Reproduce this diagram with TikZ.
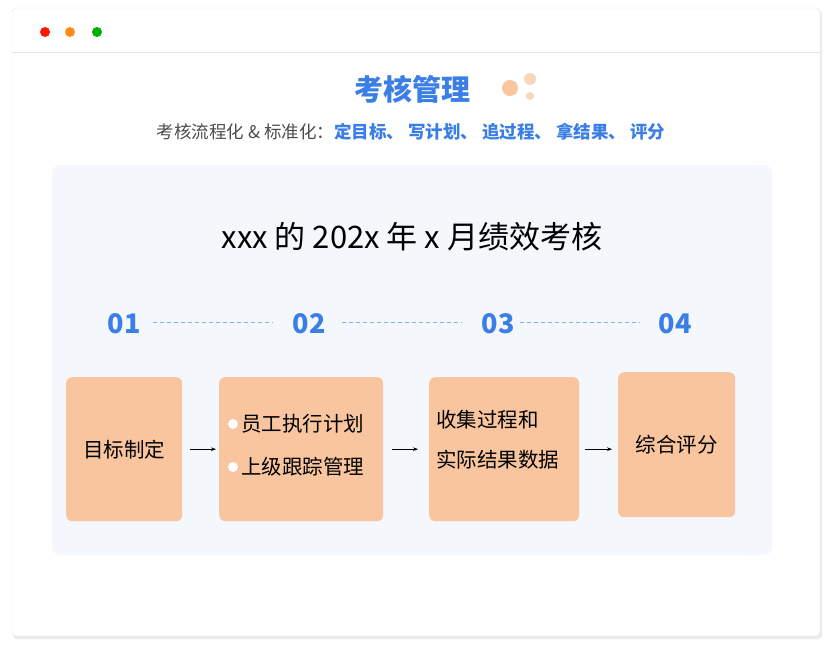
\documentclass[tikz,border=0pt]{standalone}
\usepackage{fontspec}
\setmainfont{Noto Sans CJK SC}
\usetikzlibrary{positioning,arrows.meta}
\definecolor{blueTxt}{HTML}{3B7EE6}
\definecolor{peach}{HTML}{F8C59E}
\definecolor{panelBg}{HTML}{F4F7FC}
\tikzset{
  stepbox/.style={draw=none,fill=peach,rounded corners=6pt,anchor=north west},
  num/.style={text=blueTxt,font=\fontsize{27}{30}\selectfont\bfseries},
  boxtxt/.style={font=\fontsize{20.5}{24}\selectfont,text=black},
  link/.style={dash pattern=on 4pt off 3pt,blueTxt!60,thin},
  go/.style={-{Stealth[length=5pt]},thick}
}
\begin{document}
\begin{tikzpicture}[x=1pt,y=-1pt]
\useasboundingbox (0,0) rectangle (832,648);
% window
\fill[black!8,rounded corners=4pt] (13,10) rectangle (822,639);
\draw[black!10,fill=white,rounded corners=4pt] (12,8) rectangle (820,636);
\draw[black!10] (12,52) -- (820,52);
\fill[red!80!orange] (45,32) circle (5);
\fill[orange!90] (70,32) circle (5);
\fill[green!70!black] (97,32) circle (5);
% title
\node[text=blueTxt,font=\fontsize{29}{32}\selectfont\bfseries] (title) at (412,89) {考核管理};
\fill[peach] (510,88) circle (8);
\fill[peach!70] (530,79) circle (6);
\fill[peach!70] (530,96) circle (4);
\node[font=\fontsize{17.5}{20}\selectfont] (sub) at (411,132) {\textcolor{black!70}{考核流程化 \& 标准化：}\textcolor{blueTxt}{\bfseries 定目标、\ 写计划、\ 追过程、\ 拿结果、\ 评分}};
% panel
\fill[panelBg,rounded corners=8pt] (52,165) rectangle (772,555);
\node[font=\fontsize{31}{34}\selectfont] (head) at (412,237) {xxx 的 202x 年 x 月绩效考核};
\foreach \t/\x [count=\n] in {01/124,02/309,03/498,04/675}
  \node[num] (N\n) at (\x,324) {\t};
\draw[link] (153,322) -- (273,322);
\draw[link] (342,322) -- (462,322);
\draw[link] (520,322) -- (640,322);
% steps
\node[stepbox,minimum width=116pt,minimum height=144pt] (B1) at (66,377) {};
\node[stepbox,minimum width=164pt,minimum height=144pt] (B2) at (219,377) {};
\node[stepbox,minimum width=150pt,minimum height=144pt] (B3) at (429,377) {};
\node[stepbox,minimum width=117pt,minimum height=145pt] (B4) at (618,372) {};
\node[boxtxt] at (B1.center) {目标制定};
\node[boxtxt,anchor=west,inner sep=0pt] (b21) at (241,424) {员工执行计划};
\node[boxtxt,anchor=west,inner sep=0pt] (b22) at (241,467) {上级跟踪管理};
\fill[white] (b21.west) ++(-8,0) circle (5);
\fill[white] (b22.west) ++(-8,0) circle (5);
\node[boxtxt,anchor=west,inner sep=0pt] (b31) at (436,420) {收集过程和};
\node[boxtxt,anchor=west,inner sep=0pt] (b32) at (436,460) {实际结果数据};
\node[boxtxt] at (B4.center) {综合评分};
\draw[go] ([xshift=8pt]B1.east) -- ([xshift=-3pt]B2.west |- B1.east);
\draw[go] ([xshift=9pt]B2.east) -- ([xshift=-11pt]B3.west |- B2.east);
\draw[go] ([xshift=6pt]B3.east) -- ([xshift=-6pt]B4.west |- B3.east);
\end{tikzpicture}
\end{document}
